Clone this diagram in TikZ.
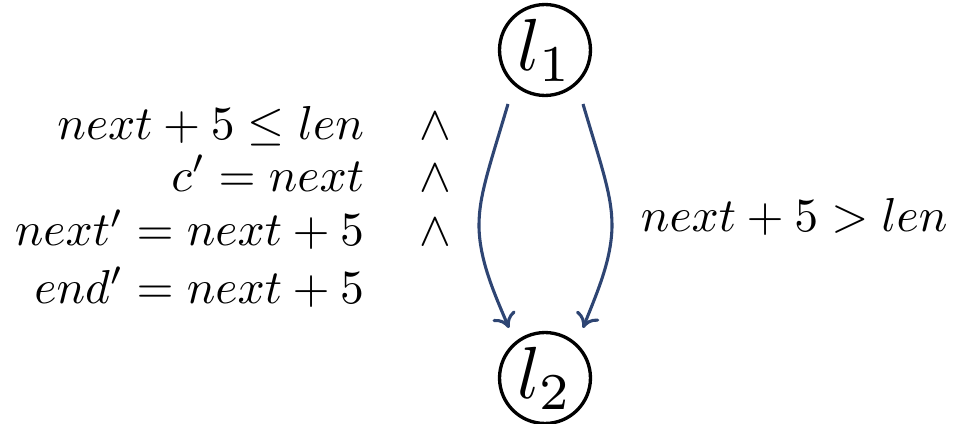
\documentclass[tikz,border=0pt]{standalone}
\usepackage{graphicx}
\usetikzlibrary{arrows.meta,calc}
\definecolor{arrowblue}{HTML}{2E4573}
\newcommand{\bigtxt}[1]{\scalebox{1.55}{#1}}
\begin{document}
\begin{tikzpicture}[x=0.21pt,y=-0.21pt,
  state/.style={circle,draw,line width=0.7pt,minimum size=19.1pt,inner sep=0pt},
  guard/.style={anchor=base east,inner sep=0pt},
  conj/.style={anchor=base,inner sep=0pt},
  trans/.style={draw=arrowblue,line width=0.65pt,-{Computer Modern Rightarrow[length=3pt,width=5.2pt]}}]
\useasboundingbox (0,0) rectangle (954,424);
\node[state] (l1) at (545,50) {\bigtxt{$l_1$}};
\node[state] (l2) at (545,378) {\bigtxt{$l_2$}};
\coordinate (a1) at ($(l1)+(-37,54)$);
\coordinate (a2) at ($(l2)+(-36,-50)$);
\coordinate (b1) at ($(l1)+(38,54)$);
\coordinate (b2) at ($(l2)+(38,-50)$);
\draw[trans] (a1) .. controls (490,165) and (479,195) .. (479,225) .. controls (479,260) and (495,295) .. (a2);
\draw[trans] (b1) .. controls (601,165) and (612,195) .. (612,225) .. controls (612,260) and (596,295) .. (b2);
\node[guard] (g1) at (365,140) {$next + 5 \leq len$};
\node[guard] (g2) at (365,191) {$c' = next$};
\node[guard] (g3) at (365,246) {$next' = next + 5$};
\node[guard] (g4) at (365,303) {$end' = next + 5$};
\node[conj] (w1) at (435,140) {$\wedge$};
\node[conj] (w2) at (435,191) {$\wedge$};
\node[conj] (w3) at (435,246) {$\wedge$};
\node[anchor=base west,inner sep=0pt] (g5) at (640,232) {$next + 5 > len$};
\end{tikzpicture}
\end{document}
